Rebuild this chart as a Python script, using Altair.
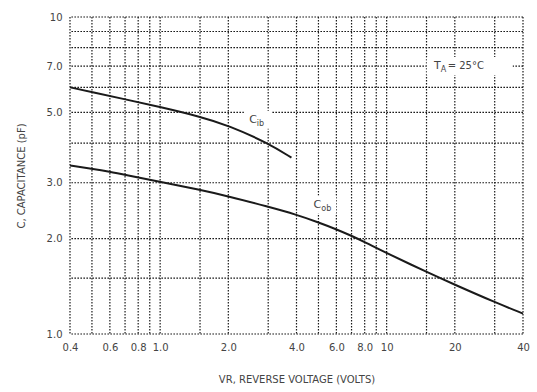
import altair as alt
import pandas as pd

# ---- data ----
cib_v = [0.4, 0.5, 0.7, 1.0, 1.5, 2.0, 3.0, 3.8]
cib_c = [6.0, 5.8, 5.5, 5.2, 4.85, 4.55, 4.0, 3.6]
cob_v = [0.4, 0.5, 0.6, 0.7, 1.0, 1.5, 2.0, 3.0, 4.0, 5.0, 6.0, 7.0, 8.0, 10, 15, 20, 30, 40]
cob_c = [3.4, 3.32, 3.25, 3.18, 3.02, 2.85, 2.72, 2.52, 2.38, 2.25, 2.14, 2.04, 1.95, 1.80, 1.57, 1.43, 1.26, 1.16]

x_grid = [0.4, 0.5, 0.6, 0.7, 0.8, 0.9, 1, 1.5, 2, 3, 4, 5, 6, 7, 8, 9, 10, 15, 20, 30, 40]
y_grid = [1, 1.5, 2, 3, 4, 5, 6, 7, 8, 9, 10]

x_tick_vals = [0.4, 0.6, 0.8, 1, 2, 4, 6, 8, 10, 20, 40]
x_tick_text = ["0.4", "0.6", "0.8", "1.0", "2.0", "4.0", "6.0", "8.0", "10", "20", "40"]
y_tick_vals = [1, 2, 3, 5, 7, 10]
y_tick_text = ["1.0", "2.0", "3.0", "5.0", "7.0", "10"]

# annotations: main letter, subscript, rest, x, y, white box width
ann_main = ["C", "C", "T"]
ann_sub = ["ib", "ob", "A"]
ann_rest = ["", "", " = 25°C"]
ann_x = [2.7, 5.2, 17.5]
ann_y = [4.74, 2.56, 7.0]
ann_w = [28, 28, 86]
ann_dx = [0, 0, 28]

X_TITLE = "VR, REVERSE VOLTAGE (VOLTS)"
Y_TITLE = "C, CAPACITANCE (pF)"
FONT = "DejaVu Sans"
TXT = "#444444"
INK = "#1a1a1a"


def label_expr(vals, texts):
    expr = "''"
    for v, t in reversed(list(zip(vals, texts))):
        expr = f"abs(datum.value - {v}) < 1e-6 ? '{t}' : ({expr})"
    return expr


xs = alt.Scale(type="log", domain=[0.4, 40], nice=False)
ys = alt.Scale(type="log", domain=[1, 10], nice=False)

x_axis = alt.Axis(values=x_tick_vals, labelExpr=label_expr(x_tick_vals, x_tick_text),
                  grid=False, domain=False, ticks=False, labelPadding=8,
                  labelFont=FONT, labelFontSize=10, labelColor=TXT,
                  title=X_TITLE, titleFont=FONT, titleFontSize=10,
                  titleFontWeight="normal", titleColor=TXT, titlePadding=22,
                  labelFlush=False, labelOverlap=False)
y_axis = alt.Axis(values=y_tick_vals, labelExpr=label_expr(y_tick_vals, y_tick_text),
                  grid=False, domain=False, ticks=False, labelPadding=8,
                  labelFont=FONT, labelFontSize=10, labelColor=TXT,
                  title=Y_TITLE, titleFont=FONT, titleFontSize=10,
                  titleFontWeight="normal", titleColor=TXT, titlePadding=20,
                  labelFlush=False, labelOverlap=False)

X = lambda f: alt.X(f, scale=xs, axis=x_axis, title=X_TITLE)
Y = lambda f: alt.Y(f, scale=ys, axis=y_axis, title=Y_TITLE)

curves = pd.DataFrame({
    "x": cib_v + cob_v,
    "y": cib_c + cob_c,
    "s": ["Cib"] * len(cib_v) + ["Cob"] * len(cob_v),
})
ann = pd.DataFrame({"m": ann_main, "sub": ann_sub, "rest": ann_rest,
                    "x": ann_x, "y": ann_y})

vgrid = alt.Chart(pd.DataFrame({"x": x_grid})).mark_rule(
    color=INK, strokeWidth=1.2, strokeDash=[1.6, 1.4]
).encode(x=X("x:Q"))

hgrid = alt.Chart(pd.DataFrame({"y": y_grid})).mark_rule(
    color=INK, strokeWidth=1.2, strokeDash=[1.6, 1.4]
).encode(y=Y("y:Q"))

box_layers = []
for i in range(len(ann_main)):
    box_layers.append(
        alt.Chart(ann.iloc[[i]]).mark_rect(
            color="white", width=ann_w[i], height=18, xOffset=ann_dx[i]
        ).encode(x=X("x:Q"), y=Y("y:Q"))
    )

lines = alt.Chart(curves).mark_line(
    color=INK, strokeWidth=2, interpolate="basis"
).encode(x=X("x:Q"), y=Y("y:Q"), detail="s:N")

main_txt = alt.Chart(ann).mark_text(
    font=FONT, fontSize=11, color=TXT, align="right", baseline="middle", dx=-1
).encode(x=X("x:Q"), y=Y("y:Q"), text="m:N")

sub_txt = alt.Chart(ann).mark_text(
    font=FONT, fontSize=8, color=TXT, align="left", baseline="middle", dx=-1, dy=4
).encode(x=X("x:Q"), y=Y("y:Q"), text="sub:N")

rest_txt = alt.Chart(ann).mark_text(
    font=FONT, fontSize=10, color=TXT, align="left", baseline="middle", dx=6
).encode(x=X("x:Q"), y=Y("y:Q"), text="rest:N")

chart = alt.layer(vgrid, hgrid, *box_layers, lines, main_txt, sub_txt, rest_txt).properties(
    width=453, height=317,
    autosize=alt.AutoSizeParams(type="none"),
    padding={"left": 70, "top": 17, "right": 14, "bottom": 58},
    background="white",
).configure_view(stroke=None)

chart.save("out.html", embed_options={"renderer": "svg", "actions": False})
